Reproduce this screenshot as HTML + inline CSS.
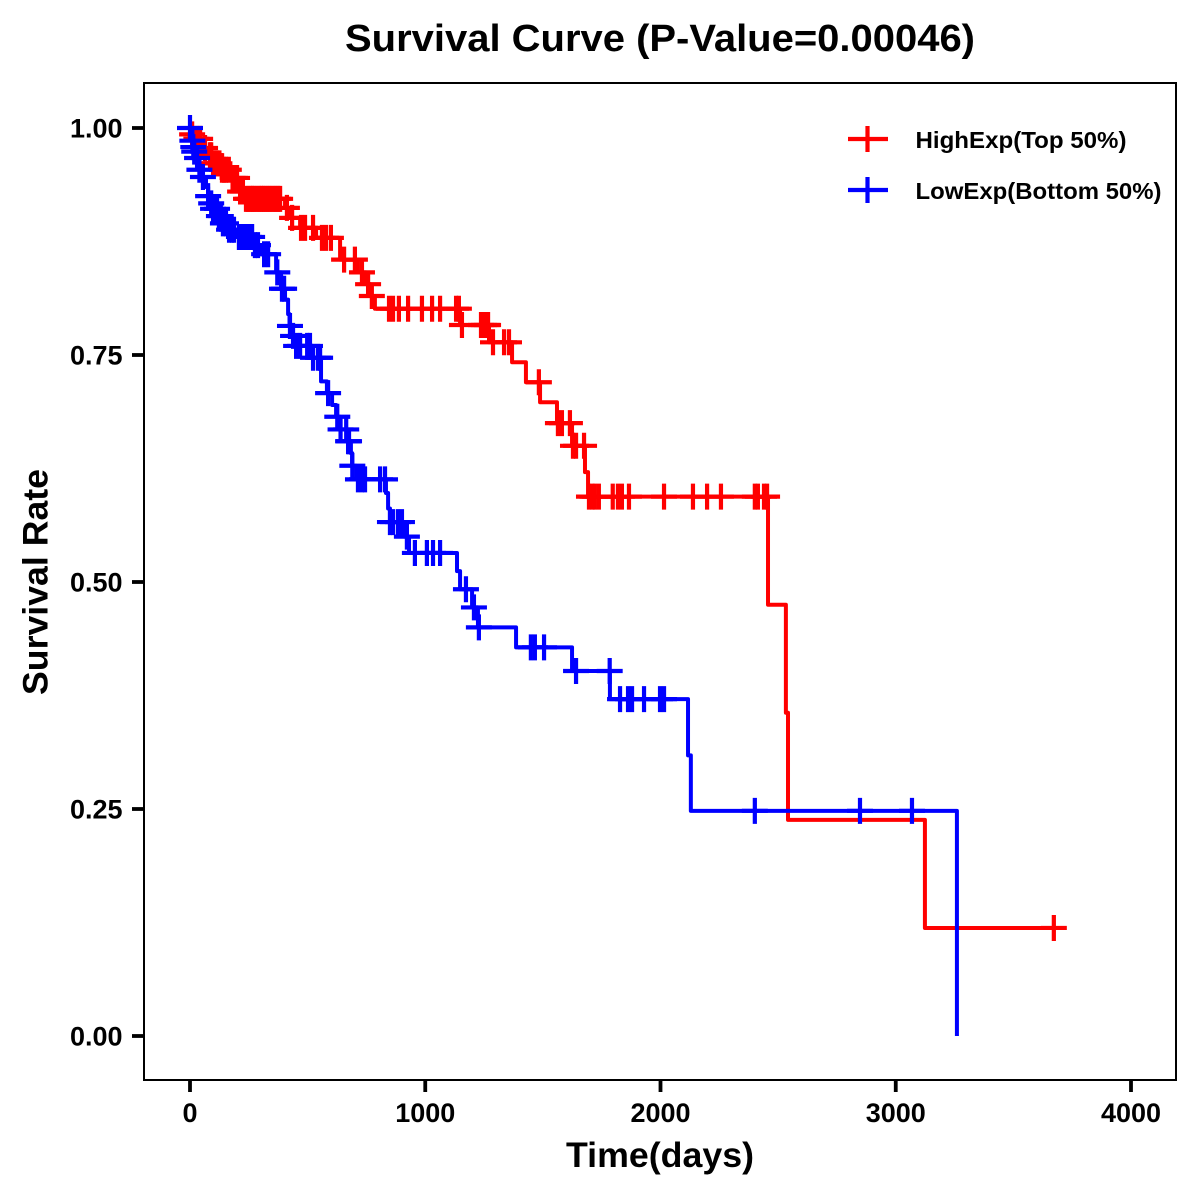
<!DOCTYPE html>
<html lang="en">
<head>
<meta charset="utf-8">
<title>Survival Curve</title>
<style>
html,body{margin:0;padding:0;background:#fff;width:1200px;height:1200px;overflow:hidden}
svg{display:block}
text{font-family:"Liberation Sans",Arial,sans-serif;font-weight:bold;fill:#000}
</style>
</head>
<body>
<svg id="chart" xmlns="http://www.w3.org/2000/svg" width="1200" height="1200" viewBox="0 0 1200 1200">
  <rect x="0" y="0" width="1200" height="1200" fill="#fff"/>
  <text x="660" y="51" font-size="38" text-anchor="middle" textLength="630" lengthAdjust="spacingAndGlyphs">Survival Curve (P-Value=0.00046)</text>
  <text x="660" y="1167" font-size="35" text-anchor="middle" textLength="188" lengthAdjust="spacingAndGlyphs">Time(days)</text>
  <text transform="translate(47.5,582) rotate(-90)" x="0" y="0" font-size="35" text-anchor="middle" textLength="226" lengthAdjust="spacingAndGlyphs">Survival Rate</text>
  <g id="ticks"></g>
  <g id="series"></g>
  <rect x="144" y="83" width="1032" height="997" fill="none" stroke="#000" stroke-width="2"/>
  <g>
    <g id="legend-high">
      <text x="915.5" y="148" font-size="23.5" textLength="211" lengthAdjust="spacingAndGlyphs">HighExp(Top 50%)</text>
    </g>
    <g id="legend-low">
      <text x="915.5" y="199" font-size="23.5" textLength="246" lengthAdjust="spacingAndGlyphs">LowExp(Bottom 50%)</text>
    </g>
  </g>
</svg>
<script>
const xTickValues = [0, 1000, 2000, 3000, 4000];
const yTickValues = [0, 0.25, 0.5, 0.75, 1];
const yTickLabels = ["0.00", "0.25", "0.50", "0.75", "1.00"];

const highTimes = [0,8,26,55,72,94,136,179,204,213,238,404,429,468,536,638,714,748,765,786,1148,1271,1369,1428,1488,1560,1624,1679,1692,2457,2533,2542,3124];
const highSurvival = [1,0.993,0.988,0.978,0.970,0.961,0.954,0.945,0.937,0.930,0.922,0.912,0.901,0.890,0.879,0.855,0.841,0.828,0.815,0.801,0.783,0.764,0.742,0.720,0.698,0.675,0.650,0.621,0.594,0.475,0.356,0.238,0.119];
const highCensored = [9,27,43,64,85,90,98,106,115,125,136,145,153,165,181,191,200,213,225,238,245,255,262,268,275,285,293,302,308,315,324,332,340,349,358,366,375,383,412,434,472,489,523,561,578,599,655,701,731,757,773,846,863,888,927,986,1029,1063,1131,1143,1156,1237,1250,1262,1267,1288,1335,1356,1483,1564,1581,1615,1628,1641,1675,1696,1711,1721,1738,1797,1819,1836,1866,2015,2138,2198,2257,2401,2414,2440,2453,3672];

const lowTimes = [0,9,13,17,26,34,38,55,68,77,89,98,119,136,162,196,272,306,366,387,404,417,423,434,446,519,557,582,604,621,638,667,684,689,706,833,842,850,910,931,1135,1148,1199,1224,1386,1624,1785,2117,2129,3260];
const lowSurvival = [1,0.986,0.979,0.974,0.967,0.960,0.954,0.946,0.935,0.925,0.917,0.911,0.903,0.895,0.888,0.880,0.871,0.861,0.841,0.823,0.811,0.795,0.782,0.771,0.760,0.747,0.721,0.708,0.695,0.682,0.668,0.655,0.642,0.628,0.613,0.598,0.581,0.566,0.550,0.532,0.512,0.492,0.472,0.450,0.428,0.402,0.371,0.309,0.248,0];
const lowCensored = [0,10,14,18,30,40,55,77,90,98,115,123,131,140,153,166,179,187,208,225,234,251,264,276,289,315,332,371,391,400,425,438,451,468,498,510,523,544,553,587,626,640,664,672,676,690,714,731,744,808,829,850,863,884,901,922,956,1007,1033,1063,1173,1207,1228,1449,1466,1505,1641,1784,1828,1862,1879,1930,1998,2015,2401,2848,3069];

function xScale(t) { return 190 + t * 0.23525; }
function yScale(s) { return 1036 - s * 908; }

const NS = 'http://www.w3.org/2000/svg';
function make(tag, attrs, parent) {
  const el = document.createElementNS(NS, tag);
  for (const k in attrs) el.setAttribute(k, attrs[k]);
  parent.appendChild(el);
  return el;
}

const ticks = document.getElementById('ticks');
xTickValues.forEach(function (v) {
  const mark = make('line', {x1: xScale(v), x2: xScale(v), y1: 1080, y2: 1092, stroke: '#000', 'stroke-width': 3.8}, ticks);
  
  
  const label = make('text', {x: xScale(v), y: 1122, 'font-size': 27, 'text-anchor': 'middle'}, ticks);
  label.textContent = String(v);
  
  
});
yTickValues.forEach(function (v, i) {
  const mark = make('line', {x1: 132, x2: 144, y1: yScale(v), y2: yScale(v), stroke: '#000', 'stroke-width': 3.8}, ticks);
  
  
  const label = make('text', {x: 122.5, y: yScale(v) + 9.5, 'font-size': 27, 'text-anchor': 'end'}, ticks);
  label.textContent = yTickLabels[i];
  
  
});

function survivalAt(times, survival, t) {
  let s = survival[0];
  for (let i = 0; i < times.length; i++) {
    if (times[i] <= t) s = survival[i];
  }
  return s;
}

function plusPath(cx, cy) {
  const h = 13;
  return 'M' + (cx - h) + ' ' + cy + 'H' + (cx + h) + 'M' + cx + ' ' + (cy - h) + 'V' + (cy + h);
}

function drawSeries(times, survival, censored, color, key) {
  const group = make('g', {}, document.getElementById('series'));
  
  
  let d = 'M' + xScale(times[0]) + ' ' + yScale(survival[0]);
  for (let i = 1; i < times.length; i++) {
    d += 'H' + xScale(times[i]) + 'V' + yScale(survival[i]);
  }
  const last = censored[censored.length - 1];
  if (last > times[times.length - 1]) d += 'H' + xScale(last);
  const curve = make('path', {d: d, fill: 'none', stroke: color, 'stroke-width': 4, 'stroke-linejoin': 'round'}, group);
  
  
  censored.forEach(function (t) {
    const mark = make('path', {d: plusPath(xScale(t), yScale(survivalAt(times, survival, t))), fill: 'none', stroke: color, 'stroke-width': 4.2}, group);
    
    
  });
}
drawSeries(highTimes, highSurvival, highCensored, '#ff0000', 'high-exp');
drawSeries(lowTimes, lowSurvival, lowCensored, '#0000ff', 'low-exp');

const legendHighLine = make('path', {d: 'M848 139H888M867.5 126V152', fill: 'none', stroke: '#ff0000', 'stroke-width': 4.2}, document.getElementById('legend-high'));


const legendLowLine = make('path', {d: 'M848 190H888M867.5 177V203', fill: 'none', stroke: '#0000ff', 'stroke-width': 4.2}, document.getElementById('legend-low'));


</script>
</body>
</html>
